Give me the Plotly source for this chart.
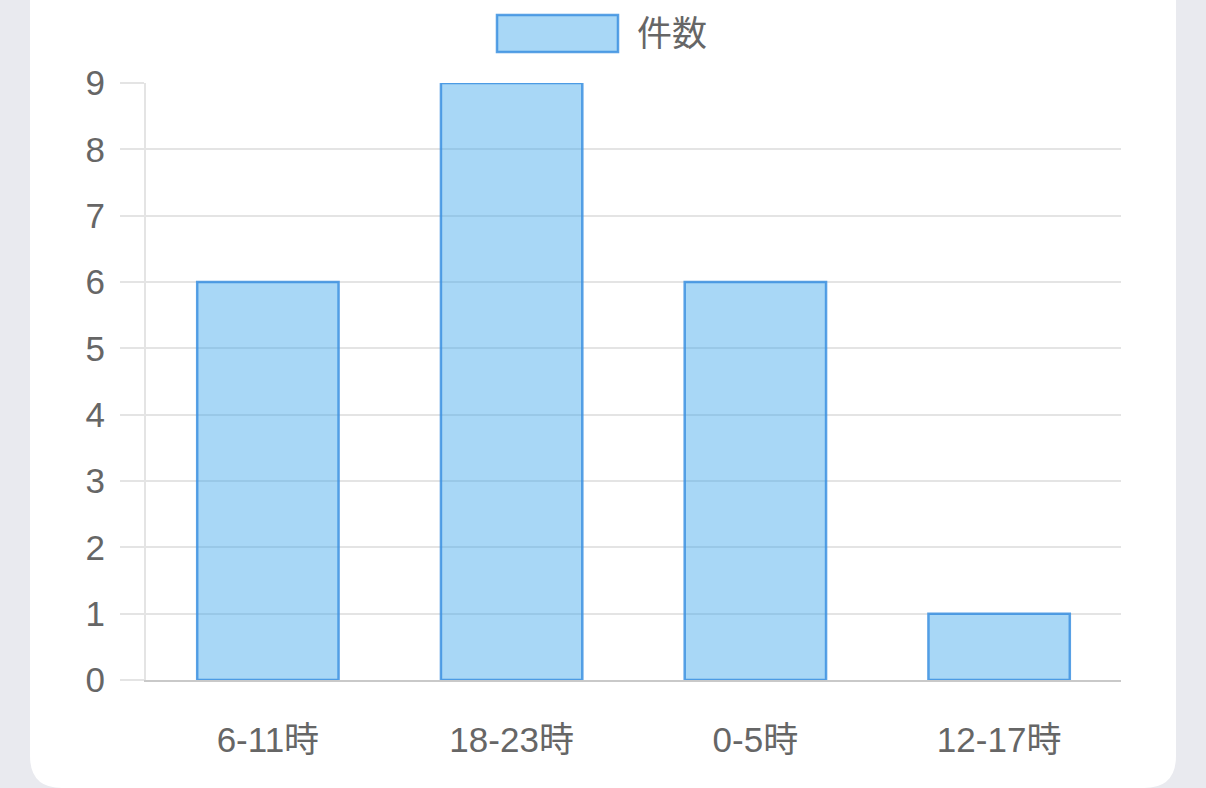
import plotly.graph_objects as go

# data
categories = ["6-11時", "18-23時", "0-5時", "12-17時"]
counts = [6, 9, 6, 1]
series_name = "件数"

FONT = "Liberation Sans, Noto Sans CJK JP, sans-serif"
TEXT = "#666666"
GRID = "#e4e4e4"
BG = "#e9eaef"
FILL = "rgba(54,162,235,0.43)"
EDGE = "rgba(60,145,225,0.85)"

W, H = 1206, 788
L, R, T, B = 146, 85, 83, 108
PW, PH = W - L - R, H - T - B


def px(x):
    # pixel -> paper x
    return (x - L) / PW


def py(y):
    # pixel -> paper y
    return (H - B - y) / PH


fig = go.Figure()

fig.add_trace(go.Bar(x=categories, y=counts,
                     name=series_name,
                     marker=dict(color=FILL, line=dict(color=EDGE, width=2.5)),
                     cliponaxis=False,
                     showlegend=False))

# white card behind the chart
cl, cr, cb, ct, rad = 30, 1176, 788, -60, 32
card = (f"M {px(cl)},{py(ct)} L {px(cl)},{py(cb - rad)} "
        f"Q {px(cl)},{py(cb)} {px(cl + rad)},{py(cb)} "
        f"L {px(cr - rad)},{py(cb)} "
        f"Q {px(cr)},{py(cb)} {px(cr)},{py(cb - rad)} "
        f"L {px(cr)},{py(ct)} Z")

fig.update_layout(
    width=W, height=H,
    margin=dict(l=L, r=R, t=T, b=B),
    paper_bgcolor=BG,
    plot_bgcolor="rgba(0,0,0,0)",
    font=dict(family=FONT, size=35, color=TEXT),
    bargap=0.42,
    shapes=[
        dict(type="path", xref="paper", yref="paper", path=card,
             fillcolor="white", line=dict(width=0), layer="below"),
        # legend swatch
        dict(type="rect", xref="paper", yref="paper",
             x0=px(497), x1=px(618), y0=py(52), y1=py(15),
             fillcolor=FILL, line=dict(color=EDGE, width=2.5)),
    ],
    annotations=[
        dict(text=series_name, xref="paper", yref="paper",
             x=px(635), y=py(33), xanchor="left", yanchor="middle",
             showarrow=False, font=dict(size=35, color=TEXT)),
    ],
)

fig.update_xaxes(showgrid=False, showline=True, linecolor="#c9c9c9", linewidth=2,
                 ticks="", ticklabelstandoff=28, zeroline=False)
fig.update_yaxes(range=[0, 9], dtick=1, showgrid=True, gridcolor=GRID, gridwidth=2,
                 showline=True, linecolor=GRID, linewidth=2,
                 ticks="outside", ticklen=24, tickwidth=2, tickcolor=GRID,
                 ticklabelstandoff=8, zeroline=False)

fig.write_html("out.html",
               config={"displayModeBar": False},
               post_script=f"document.body.style.margin='0';"
                           f"document.body.style.background='{BG}';")
